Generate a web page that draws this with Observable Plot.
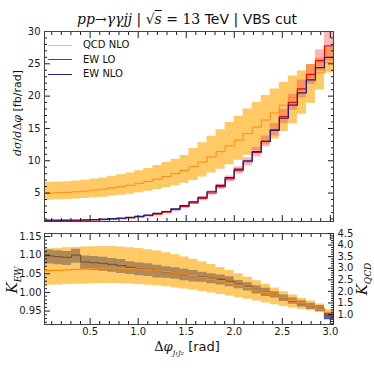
<!DOCTYPE html>
<html><head><meta charset="utf-8">
<script src="https://cdn.jsdelivr.net/npm/d3@7"></script>
<script src="https://cdn.jsdelivr.net/npm/@observablehq/plot@0.6"></script>
<style>
body{margin:0;background:#fff;}
#wrap{position:relative;width:374px;height:374px;overflow:hidden;font-family:"DejaVu Sans",sans-serif;color:#111;}
#wrap > *{position:absolute;}
.m{font-family:"DejaVu Serif",serif;font-style:italic;}
.r{font-family:"DejaVu Serif",serif;}
.rot{transform:rotate(-90deg);transform-origin:50% 50%;text-align:center;white-space:nowrap;}
</style></head><body><div id="wrap"></div>
<script>
// bin edges in Δφ (rad)
const edges = [0.025,0.119,0.213,0.307,0.401,0.495,0.589,0.683,0.777,0.871,0.965,1.059,1.153,1.247,1.341,1.435,1.529,1.623,1.717,1.811,1.905,1.999,2.093,2.187,2.281,2.375,2.469,2.563,2.657,2.751,2.845,2.939,3.033];
// top panel: dσ/dΔφ [fb/rad]
const qcdNLO   = [5.0,5.05,5.1,5.2,5.3,5.45,5.6,5.8,6.0,6.2,6.5,6.8,7.15,7.55,8.0,8.5,9.1,9.8,10.6,11.4,12.3,13.2,14.2,15.2,16.3,17.4,18.6,19.8,21.0,22.3,23.6,25.2];
const qcdNLOlo = [3.90,3.96,4.00,4.07,4.14,4.26,4.37,4.51,4.66,4.83,5.05,5.27,5.54,5.83,6.14,6.51,6.96,7.47,8.09,8.70,9.38,10.06,10.86,11.60,12.47,13.36,14.51,15.74,17.20,18.89,20.96,23.59];
const qcdNLOhi = [6.62,6.70,6.75,6.87,7.00,7.19,7.35,7.59,7.84,8.09,8.46,8.82,9.25,9.72,10.23,10.83,11.9,12.8,13.8,14.8,15.9,16.9,18.0,19.0,20.1,21.1,22.1,23.1,23.9,24.9,25.9,27.5];
const ewLO     = [0.73,0.73,0.74,0.755,0.795,0.833,0.89,0.958,1.054,1.171,1.316,1.507,1.749,2.038,2.424,2.91,3.493,4.175,5.01,5.99,7.184,8.513,9.843,11.31,12.99,14.79,16.85,19.04,21.13,23.36,25.5,27.78];
const ewLOlo   = [0.68,0.68,0.69,0.71,0.74,0.78,0.83,0.90,0.99,1.09,1.23,1.41,1.64,1.91,2.27,2.72,3.27,3.90,4.68,5.60,6.72,7.96,9.20,10.57,12.15,13.83,15.75,17.80,19.76,21.84,23.84,25.4];
const ewLOhi   = [0.78,0.78,0.79,0.80,0.85,0.89,0.95,1.02,1.12,1.25,1.40,1.60,1.86,2.17,2.58,3.10,3.72,4.45,5.34,6.38,7.65,9.07,10.48,12.05,13.83,15.75,17.95,20.28,22.50,24.88,27.16,30.5];
const ewNLO    = [0.8,0.8,0.81,0.83,0.86,0.9,0.96,1.03,1.13,1.25,1.4,1.6,1.85,2.15,2.55,3.05,3.65,4.35,5.2,6.2,7.4,8.7,10.0,11.4,13.0,14.7,16.6,18.6,20.5,22.5,24.4,26.0];
// bottom panel: K factors
const kEW   = [1.098,1.096,1.094,1.100,1.082,1.080,1.078,1.075,1.072,1.067,1.064,1.062,1.058,1.055,1.052,1.048,1.045,1.042,1.038,1.035,1.030,1.022,1.016,1.008,1.001,0.994,0.985,0.977,0.970,0.963,0.957,0.936];
const kEWlo = [1.076,1.074,1.072,1.078,1.061,1.059,1.057,1.054,1.051,1.048,1.045,1.043,1.039,1.038,1.035,1.031,1.028,1.027,1.023,1.020,1.015,1.010,1.004,0.996,0.989,0.985,0.976,0.968,0.961,0.954,0.948,0.927];
const kEWhi = [1.114,1.112,1.110,1.116,1.098,1.096,1.094,1.091,1.088,1.082,1.079,1.077,1.073,1.069,1.066,1.062,1.059,1.054,1.050,1.047,1.042,1.032,1.026,1.018,1.011,1.002,0.993,0.985,0.978,0.971,0.965,0.945];
const kQCD   = [2.90,2.91,2.93,2.95,2.97,2.98,3.00,3.01,3.00,2.98,2.96,2.93,2.89,2.85,2.80,2.74,2.68,2.61,2.53,2.45,2.36,2.27,2.17,2.07,1.96,1.85,1.73,1.61,1.49,1.37,1.25,1.10];
const kQCDlo = [2.26,2.28,2.30,2.31,2.32,2.33,2.34,2.34,2.33,2.32,2.30,2.27,2.24,2.20,2.15,2.10,2.05,1.99,1.93,1.87,1.80,1.73,1.66,1.58,1.50,1.42,1.35,1.28,1.22,1.16,1.11,1.03];
const kQCDhi = [3.84,3.86,3.88,3.90,3.92,3.93,3.94,3.94,3.92,3.89,3.85,3.80,3.74,3.67,3.58,3.49,3.39,3.28,3.16,3.03,2.90,2.76,2.61,2.46,2.31,2.15,1.98,1.84,1.70,1.58,1.45,1.22];
// ticks
const xMajor = [0.5,1.0,1.5,2.0,2.5,3.0];
const xMinor = [0.1,0.2,0.3,0.4,0.6,0.7,0.8,0.9,1.1,1.2,1.3,1.4,1.6,1.7,1.8,1.9,2.1,2.2,2.3,2.4,2.6,2.7,2.8,2.9];
const yTopMajor = [5,10,15,20,25,30];
const yTopMinor = [1,2,3,4,6,7,8,9,11,12,13,14,16,17,18,19,21,22,23,24,26,27,28,29];
const kEWTicks = [0.95,1.00,1.05,1.10,1.15];
const kEWMinor = [0.92,0.93,0.94,0.96,0.97,0.98,0.99,1.01,1.02,1.03,1.04,1.06,1.07,1.08,1.09,1.11,1.12,1.13,1.14];
const kQCDTicks = [1.0,1.5,2.0,2.5,3.0,3.5,4.0,4.5];
const kQCDMinor = [0.6,0.7,0.8,0.9,1.1,1.2,1.3,1.4,1.6,1.7,1.8,1.9,2.1,2.2,2.3,2.4,2.6,2.7,2.8,2.9,3.1,3.2,3.3,3.4,3.6,3.7,3.8,3.9,4.1,4.2,4.3,4.4];

const colQ = "#ffa500", colQline = "#ff8c10", colQlegend = "#fdb860";

// step rows: one row per bin start, plus closing row at last edge
const rows = edges.map((x, i) => {
  const j = Math.min(i, qcdNLO.length - 1);
  return {x, qcd: qcdNLO[j], qlo: qcdNLOlo[j], qhi: qcdNLOhi[j], lo: ewLO[j], llo: ewLOlo[j], lhi: ewLOhi[j], nlo: ewNLO[j],
          kew: kEW[j], kewlo: kEWlo[j], kewhi: kEWhi[j], kq: kQCD[j], kqlo: kQCDlo[j], kqhi: kQCDhi[j]};
});

const W = 374, ML = 44, MR = 41;
const xDom = [edges[0], edges[edges.length - 1]];
const style = {background: "transparent", fontFamily: "DejaVu Sans, sans-serif", fontSize: "10px", color: "#1a1a1a", overflow: "visible"};
const blank = () => "";
const xAxes = (label) => [
  Plot.axisX(xMinor, {anchor: "bottom", tickSize: -3, tickFormat: blank, label: null}),
  Plot.axisX(xMajor, {anchor: "bottom", tickSize: -6, tickPadding: 9, tickFormat: label ? d3.format(".1f") : blank, label: null}),
  Plot.axisX(xMinor, {anchor: "top", tickSize: -3, tickFormat: blank, label: null}),
  Plot.axisX(xMajor, {anchor: "top", tickSize: -6, tickFormat: blank, label: null})
];
const step = "step-after";

const topPlot = Plot.plot({
  width: W, height: 226, marginLeft: ML, marginRight: MR, marginTop: 31, marginBottom: 5,
  style,
  x: {domain: xDom, axis: null},
  y: {domain: [0.6, 30], axis: null},
  marks: [
    Plot.areaY(rows, {x: "x", y1: "qlo", y2: "qhi", curve: step, fill: colQ, fillOpacity: 0.6, clip: true}),
    Plot.areaY(rows, {x: "x", y1: "llo", y2: "lhi", curve: step, fill: "#f04848", fillOpacity: 0.38, clip: true}),
    Plot.line(rows, {x: "x", y: "qcd", curve: step, stroke: colQline, strokeWidth: 1, clip: true}),
    Plot.line(rows, {x: "x", y: "lo", curve: step, stroke: "#ff0000", strokeWidth: 1.2, clip: true}),
    Plot.line(rows, {x: "x", y: "nlo", curve: step, stroke: "#1e1e8c", strokeWidth: 1.2, clip: true}),
    ...xAxes(false),
    Plot.axisY(yTopMinor, {anchor: "left", tickSize: -3, tickFormat: blank, label: null}),
    Plot.axisY(yTopMajor, {anchor: "left", tickSize: -6, tickPadding: 10, label: null}),
    Plot.axisY(yTopMinor, {anchor: "right", tickSize: -3, tickFormat: blank, label: null}),
    Plot.axisY(yTopMajor, {anchor: "right", tickSize: -6, tickFormat: blank, label: null}),
    Plot.frame({stroke: "#444"})
  ]
});

const botOpts = {width: W, height: 149, marginLeft: ML, marginRight: MR, marginTop: 8, marginBottom: 50, style};
const qDom = [0.57, 4.5], eDom = [0.914, 1.158];

// layer 1: K_EW band (blue)
const ewBand = Plot.plot({...botOpts,
  x: {domain: xDom, axis: null}, y: {domain: eDom, axis: null},
  marks: [Plot.areaY(rows, {x: "x", y1: "kewlo", y2: "kewhi", curve: step, fill: "#2450dc", fillOpacity: 0.9, clip: true})]
});
// layer 2: K_QCD band (translucent orange)
const qBand = Plot.plot({...botOpts,
  x: {domain: xDom, axis: null}, y: {domain: qDom, axis: null},
  marks: [Plot.areaY(rows, {x: "x", y1: "kqlo", y2: "kqhi", curve: step, fill: colQ, fillOpacity: 0.6, clip: true})]
});
// layer 3: K_EW line, axes, frame
const ewPlot = Plot.plot({...botOpts,
  x: {domain: xDom, axis: null}, y: {domain: eDom, axis: null},
  marks: [
    Plot.line(rows, {x: "x", y: "kew", curve: step, stroke: "#86503f", strokeWidth: 1.2, clip: true}),
    ...xAxes(true),
    Plot.axisY(kEWMinor, {anchor: "left", tickSize: -3, tickFormat: blank, label: null}),
    Plot.axisY(kEWTicks, {anchor: "left", tickSize: -6, tickPadding: 9, tickFormat: d3.format(".2f"), label: null}),
    Plot.frame({stroke: "#444"})
  ]
});
// layer 4: K_QCD line and right axis
const qLine = Plot.plot({...botOpts,
  x: {domain: xDom, axis: null}, y: {domain: qDom, axis: null},
  marks: [
    Plot.line(rows, {x: "x", y: "kq", curve: step, stroke: colQline, strokeWidth: 1.2, clip: true}),
    Plot.axisY(kQCDMinor, {anchor: "right", tickSize: -3, tickFormat: blank, label: null}),
    Plot.axisY(kQCDTicks, {anchor: "right", tickSize: -6, tickPadding: 10, tickFormat: d3.format(".1f"), label: null})
  ]
});

const wrap = document.getElementById("wrap");
function place(el, left, top) { el.style.position = "absolute"; el.style.left = left + "px"; el.style.top = top + "px"; wrap.appendChild(el); }
place(topPlot, 0, 0);
place(ewBand, 0, 225);
place(qBand, 0, 225);
place(ewPlot, 0, 225);
place(qLine, 0, 225);

function html(s, css) { const d = document.createElement("div"); d.innerHTML = s; d.style.cssText = "position:absolute;" + css; wrap.appendChild(d); return d; }
// title
html('<span class="m">pp</span><span class="r">→</span><span class="m">γγjj</span> | <span class="r">√<span class="m" style="text-decoration:overline">s</span> = 13</span> TeV | VBS cut',
  "left:0;top:10px;width:374px;text-align:center;font-size:14px;line-height:18px;white-space:nowrap;");
// legend
const legend = [["QCD NLO", colQlegend], ["EW LO", "#ff0000"], ["EW NLO", "#1e1e8c"]];
legend.forEach(([t, c], i) => {
  html("", `left:48px;top:${45 + i * 14.7 - 0.5}px;width:24px;height:0;border-top:1.2px solid ${c};`);
  html(t, `left:83px;top:${45 + i * 14.7 - 7}px;font-size:10px;line-height:14px;white-space:nowrap;`);
});
// axis labels
html('<span class="m">dσ</span><span class="r">/</span><span class="m">d</span><span class="r">Δ</span><span class="m">φ</span> [fb/rad]',
  "left:-62px;top:104px;width:160px;height:18px;font-size:11px;line-height:18px;").classList.add("rot");
html('<span class="m">K<sub style="font-size:9px">EW</sub></span>',
  "left:-28px;top:270px;width:80px;height:20px;font-size:15px;line-height:20px;").classList.add("rot");
html('<span class="m">K<sub style="font-size:9px">QCD</sub></span>',
  "left:322px;top:269px;width:80px;height:20px;font-size:15px;line-height:20px;").classList.add("rot");
html('<span class="r">Δ</span><span class="m">φ<sub style="font-size:8px">j₁j₂</sub></span> [rad]',
  "left:0;top:338px;width:374px;text-align:center;font-size:13px;line-height:18px;white-space:nowrap;");
</script></body></html>
